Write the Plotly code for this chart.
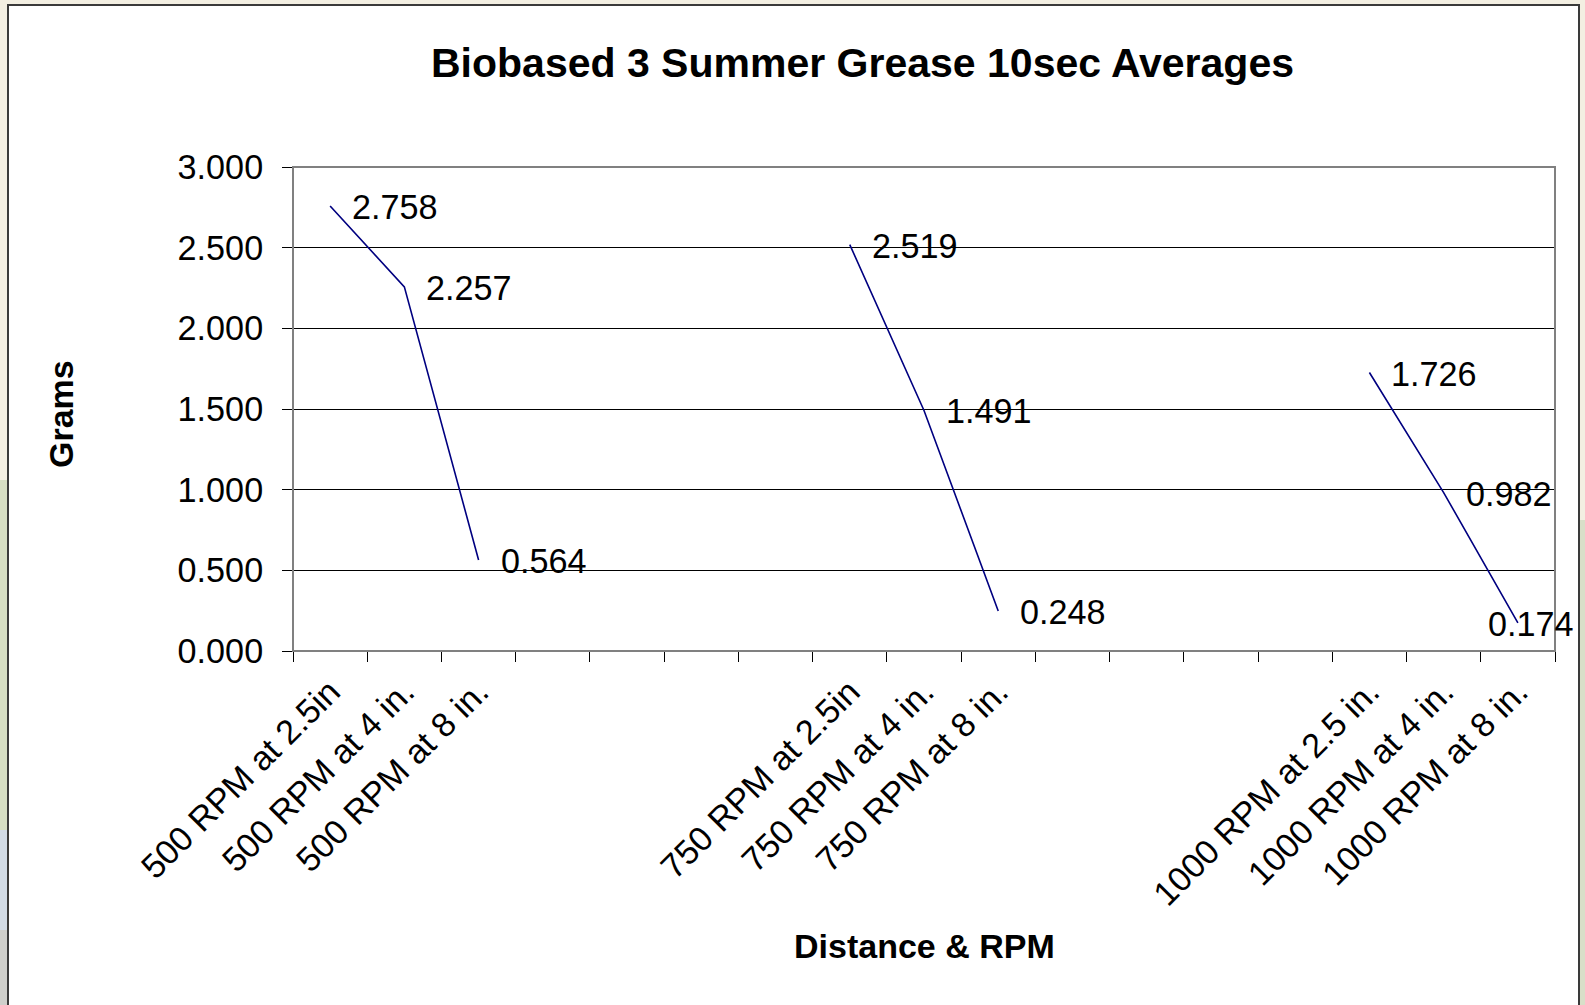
import plotly.graph_objects as go

# Category slots along the x axis (blank slots separate the RPM groups)
categories = [
    "500 RPM at 2.5in", "500 RPM at 4 in.", "500 RPM at 8 in.",
    "", "", "", "",
    "750 RPM at 2.5in", "750 RPM at 4 in.", "750 RPM at 8 in.",
    "", "", "", "",
    "1000 RPM at 2.5 in.", "1000 RPM at 4 in.", "1000 RPM at 8 in.",
]
# Average grams per slot (None = empty slot, breaks the line)
grams = [
    2.758, 2.257, 0.564,
    None, None, None, None,
    2.519, 1.491, 0.248,
    None, None, None, None,
    1.726, 0.982, 0.174,
]
y_ticks = [0.0, 0.5, 1.0, 1.5, 2.0, 2.5, 3.0]

title_text = "Biobased 3 Summer Grease 10sec Averages"
x_title = "Distance & RPM"
y_title = "Grams"

W, H = 1585, 1005
L, R, T, B = 293, 30, 167, 354
PW, PH = W - L - R, H - T - B


def px_x(px):
    return (px - L) / PW


def px_y(py):
    return (H - B - py) / PH


FONT = "Liberation Sans, Arial, sans-serif"
LABEL_SIZE = 34.2
n = len(categories)
xs = list(range(n))

fig = go.Figure()
fig.add_trace(go.Scatter(
    x=xs, y=grams, mode="lines", connectgaps=False,
    line=dict(color="#000080", width=1.6), showlegend=False, hoverinfo="skip",
))
# invisible trace so the boundary-tick axis gets drawn
fig.add_trace(go.Scatter(x=[-0.5, n - 0.5], y=[None, None], xaxis="x2",
                         mode="lines", showlegend=False, hoverinfo="skip"))

label_idx = [i for i, c in enumerate(categories) if c]

# value labels to the right of each point; the last one is pulled left to stay inside
shifts = [20] * n
shifts[n - 1] = -32
annotations = []
for i, v in enumerate(grams):
    if v is None:
        continue
    annotations.append(dict(
        x=i, y=v, xref="x", yref="y", text=f"{v:.3f}", showarrow=False,
        xanchor="left", yanchor="middle", xshift=shifts[i], yshift=-1,
        font=dict(family=FONT, size=LABEL_SIZE, color="black"),
    ))

annotations += [
    dict(x=px_x(862), y=px_y(63), xref="paper", yref="paper", text=f"<b>{title_text}</b>",
         showarrow=False, xanchor="center", yanchor="middle",
         font=dict(family=FONT, size=41, color="black")),
    dict(x=0.5, y=px_y(946), xref="paper", yref="paper", text=f"<b>{x_title}</b>",
         showarrow=False, xanchor="center", yanchor="middle",
         font=dict(family=FONT, size=34, color="black")),
    dict(x=px_x(61), y=px_y(414), xref="paper", yref="paper", text=f"<b>{y_title}</b>",
         showarrow=False, xanchor="center", yanchor="middle", textangle=-90,
         font=dict(family=FONT, size=34, color="black")),
]

shapes = [
    # white chart frame
    dict(type="rect", xref="paper", yref="paper", layer="below",
         x0=px_x(8), x1=px_x(1579), y0=px_y(1012), y1=px_y(5),
         fillcolor="white", line=dict(color="#3a3a3a", width=2)),
    # background strips beside the frame
    dict(type="rect", xref="paper", yref="paper", layer="below",
         x0=px_x(0), x1=px_x(7), y0=px_y(830), y1=px_y(480),
         fillcolor="#d6dec3", line=dict(width=0)),
    dict(type="rect", xref="paper", yref="paper", layer="below",
         x0=px_x(0), x1=px_x(7), y0=px_y(930), y1=px_y(830),
         fillcolor="#d3dce6", line=dict(width=0)),
    dict(type="rect", xref="paper", yref="paper", layer="below",
         x0=px_x(0), x1=px_x(7), y0=px_y(1005), y1=px_y(930),
         fillcolor="#cfcfcb", line=dict(width=0)),
    dict(type="rect", xref="paper", yref="paper", layer="below",
         x0=px_x(1580), x1=px_x(1585), y0=px_y(1005), y1=px_y(520),
         fillcolor="#d8dfc8", line=dict(width=0)),
    # plot area border
    dict(type="rect", xref="paper", yref="paper", layer="above",
         x0=0, x1=1, y0=0, y1=1, line=dict(color="#808080", width=2)),
]

fig.update_layout(
    width=W, height=H,
    margin=dict(l=L, r=R, t=T, b=B, pad=0),
    paper_bgcolor="#f3efe2",
    plot_bgcolor="#c0c0c0",
    showlegend=False,
    font=dict(family=FONT, color="black"),
    annotations=annotations,
    shapes=shapes,
    xaxis=dict(
        range=[-0.5, n - 0.5], tickmode="array",
        tickvals=label_idx, ticktext=[categories[i] for i in label_idx],
        tickangle=-45, ticks="", showgrid=False, zeroline=False,
        showline=True, linecolor="black", linewidth=1,
        tickfont=dict(family=FONT, size=LABEL_SIZE, color="black"),
        ticklabelstandoff=6,
    ),
    xaxis2=dict(
        range=[-0.5, n - 0.5], overlaying="x", anchor="y", side="bottom",
        tickmode="array", tickvals=[i - 0.5 for i in range(n + 1)],
        ticks="outside", ticklen=10, tickcolor="black", tickwidth=1,
        showticklabels=False, showgrid=False, zeroline=False, showline=False,
    ),
    yaxis=dict(
        range=[0, 3.0], tickmode="array", tickvals=y_ticks,
        ticktext=[f"{v:.3f}" for v in y_ticks],
        ticks="outside", ticklen=10, tickcolor="black", tickwidth=1,
        showgrid=True, gridcolor="black", gridwidth=1, zeroline=False,
        showline=True, linecolor="black", linewidth=1,
        tickfont=dict(family=FONT, size=LABEL_SIZE, color="black"),
        ticklabelstandoff=12,
    ),
)

fig.write_html("out.html")
